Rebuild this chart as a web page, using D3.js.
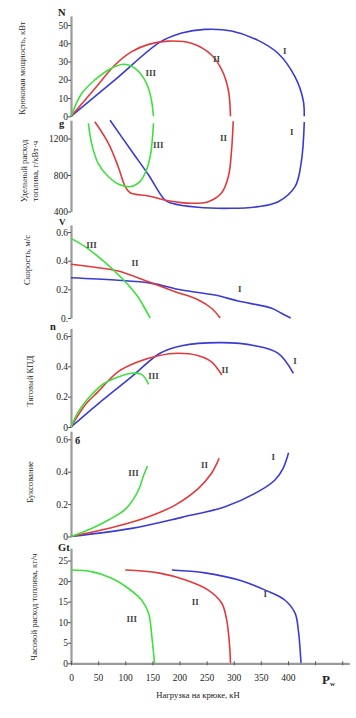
<!DOCTYPE html>
<html><head><meta charset="utf-8">
<script src="https://cdn.jsdelivr.net/npm/d3@7"></script>
<style>
html,body{margin:0;padding:0;background:#fff;}
svg{display:block;font-family:"Liberation Serif","DejaVu Serif",serif;}
</style></head>
<body>
<svg id="c" width="356" height="718"></svg>
<script>
// ---------- DATA ----------
const seriesNames = ["I", "II", "III"];
const xTicks = [0, 50, 100, 150, 200, 250, 300, 350, 400, 450, 500];
const xTickLabels = ["0", "50", "100", "150", "200", "250", "300", "350", "400", "", ""];

// Hook power N, kW  [load kN, value]
const powerI   = [[0,0],[81,19.9],[164,40.6],[204,45.6],[247,47.6],[296,46.7],[345,41.6],[382,34.4],[413,21.6],[428,8.9],[430,0]];
const powerII  = [[0,0],[44,15.2],[81,28.1],[112,35.4],[143,39.4],[179,41.2],[222,40],[259,33.6],[278,25.4],[290,14.4],[294,0]];
const powerIII = [[0,0],[20,12.6],[44,19.9],[69,25.4],[96,28.5],[118,26.3],[136,19.9],[147,10.8],[152,0]];

// Specific fuel consumption g, g/kWh
const sfcI   = [[72,1400],[112,1060],[143,800],[173,526],[186,490],[234,446],[295,435],[345,453],[382,507],[413,672],[425,964],[430,1380]];
const sfcII  = [[44,1384],[69,1147],[87,891],[100,672],[109,606],[143,570],[179,518],[222,490],[253,507],[277,599],[290,781],[296,1074],[299,1390]];
const sfcIII = [[32,1367],[38,1147],[50,928],[69,781],[87,701],[109,672],[127,727],[139,855],[147,1038],[152,1367]];

// Speed V, m/s
const speedI   = [[0,0.281],[81,0.265],[149,0.242],[204,0.195],[265,0.16],[308,0.119],[370,0.068],[388,0.033],[405,0]];
const speedII  = [[0,0.375],[50,0.351],[87,0.328],[143,0.253],[192,0.184],[235,0.126],[259,0.068],[275,0]];
const speedIII = [[0,0.556],[26,0.498],[50,0.428],[75,0.347],[100,0.253],[121,0.16],[136,0.068],[146,0]];

// Traction efficiency
const effI   = [[0,0],[50,0.153],[112,0.332],[164,0.486],[204,0.536],[278,0.556],[339,0.536],[382,0.486],[410,0.354]];
const effII  = [[0,0],[26,0.145],[50,0.233],[87,0.365],[124,0.43],[161,0.47],[198,0.486],[235,0.47],[259,0.43],[278,0.343]];
const effIII = [[0,0],[13.5,0.101],[32,0.189],[57,0.277],[81,0.321],[112,0.354],[130,0.347],[139,0.31],[143,0.281]];

// Slip
const slipI   = [[0,0],[112,0.05],[204,0.118],[284,0.184],[345,0.277],[376,0.349],[391,0.421],[401,0.517]];
const slipII  = [[0,0],[81,0.06],[143,0.122],[192,0.194],[235,0.297],[259,0.39],[269,0.452],[273,0.483]];
const slipIII = [[0,0],[38,0.05],[69,0.102],[100,0.168],[118,0.246],[127,0.307],[133,0.369],[141,0.435]];

// Hourly fuel consumption Gt, kg/h
const hourlyI   = [[186,22.7],[247,22],[308,20.3],[358,17.8],[394,15.4],[413,12.2],[419,8.1],[424,0]];
const hourlyII  = [[100,22.7],[161,22],[210,20.3],[253,17.8],[278,14.6],[287,10.5],[292,4.9],[294,0]];
const hourlyIII = [[0,22.7],[38,22.3],[75,20.7],[106,18.2],[130,15.4],[143,12.2],[149,6.5],[154,0]];

// Curve label anchors [load, value] for I, II, III
const powerLabels  = [[394,36],[268,31.6],[147,24]];
const sfcLabels    = [[407,1275],[281,1202],[161,1129]];
const speedLabels  = [[311,0.207],[118,0.386],[38,0.51]];
const effLabels    = [[413,0.435],[284,0.376],[152,0.338]];
const slipLabels   = [[373,0.489],[246,0.441],[115,0.39]];
const hourlyLabels = [[358,16.8],[229,15],[112,10.9]];

const powerTicks  = [0,10,20,30,40,50];
const sfcTicks    = [400,800,1200];
const speedTicks  = [0,0.2,0.4,0.6];
const effTicks    = [0,0.2,0.4,0.6];
const slipTicks   = [0,0.2,0.4,0.6];
const hourlyTicks = [0,5,10,15,20,25];

// ---------- DRAWING ----------
const colors = ["#3a3ad6", "#e23a3a", "#3ee03e"];
const svg = d3.select("#c");
const axisColor = "#9a9a9a";
const x = d3.scaleLinear().domain([0, 513]).range([71, 349.3]);

const panels = [
  {series:[powerI,powerII,powerIII], labels:powerLabels, ticks:powerTicks, fmt:d=>d, dom:[0,55], rng:[116.3,15.9],
   sym:"N", symX:58, symY:16, symFs:10.5, title:["Крюковая мощность, кВт"], tx:[25], ty:68},
  {series:[sfcI,sfcII,sfcIII], labels:sfcLabels, ticks:sfcTicks, fmt:d=>d, dom:[400,1400], rng:[211.5,120.25],
   sym:"g", symX:59, symY:127, symFs:10.5, title:["Удельный расход","топлива, г/кВт·ч"], tx:[27,38], ty:171},
  {series:[speedI,speedII,speedIII], labels:speedLabels, ticks:speedTicks, fmt:d=>d===0?"0.":d3.format(".1f")(d), dom:[0,0.65], rng:[318,224.9],
   sym:"V", symX:59, symY:224.6, symFs:9, title:["Скорость, м/с"], tx:[30], ty:260},
  {series:[effI,effII,effIII], labels:effLabels, ticks:effTicks, fmt:d=>d===0?"0":d3.format(".1f")(d), dom:[0,0.65], rng:[427,328.4],
   sym:"n", symX:50, symY:330, symFs:10.5, title:["Тяговый КПД"], tx:[33], ty:381},
  {series:[slipI,slipII,slipIII], labels:slipLabels, ticks:slipTicks, fmt:d=>d===0?"0":d3.format(".1f")(d), dom:[0,0.65], rng:[536.5,431.2],
   sym:"б", symX:75, symY:444, symFs:10.5, title:["Буксование"], tx:[33], ty:482},
  {series:[hourlyI,hourlyII,hourlyIII], labels:hourlyLabels, ticks:hourlyTicks, fmt:d=>d, dom:[0,28], rng:[663.3,548.2],
   sym:"Gt", symX:58, symY:551, symFs:10.5, title:["Часовой расход топлива, кг/ч"], tx:[37], ty:607}
];

panels.forEach(p => {
  const y = d3.scaleLinear().domain(p.dom).range(p.rng);
  const g = svg.append("g");
  const ax = g.append("g").attr("transform","translate(71,0)")
    .call(d3.axisLeft(y).tickValues(p.ticks).tickFormat(p.fmt).tickSize(3).tickSizeOuter(0));
  ax.select(".domain").attr("stroke", axisColor).attr("stroke-width", 2.2);
  ax.selectAll(".tick line").attr("stroke", "#555").attr("stroke-width", 1);
  ax.selectAll(".tick text").attr("font-size", 9.5).attr("fill","#222")
    .attr("font-family","Liberation Serif, serif").attr("x", -3);
  g.append("text").attr("x", p.symX).attr("y", p.symY).text(p.sym)
    .attr("font-size", p.symFs).attr("font-weight","bold").attr("fill","#222");
  p.title.forEach((t,i) => {
    g.append("text").attr("transform",`translate(${p.tx[i]},${p.ty}) rotate(-90)`)
      .attr("text-anchor","middle").attr("font-size", 8.6).attr("fill","#222").text(t);
  });
  const line = d3.line().x(d=>x(d[0])).y(d=>y(d[1])).curve(d3.curveCatmullRom.alpha(0.5));
  p.series.forEach((s,i) => {
    g.append("path").attr("d", line(s)).attr("fill","none")
      .attr("stroke", colors[i]).attr("stroke-width", 1.6).attr("stroke-linejoin","round");
  });
  p.labels.forEach((l,i) => {
    g.append("text").attr("x", x(l[0])).attr("y", y(l[1])).attr("dy","0.35em")
      .attr("text-anchor","middle").attr("font-size", 9).attr("font-weight","bold")
      .attr("fill","#444").text(seriesNames[i]);
  });
});

const xa = svg.append("g").attr("transform","translate(0,663.3)")
  .call(d3.axisBottom(x).tickValues(xTicks).tickFormat((d,i)=>xTickLabels[i]).tickSize(3).tickSizeOuter(0));
xa.select(".domain").attr("stroke", axisColor).attr("stroke-width", 2.2);
xa.selectAll(".tick line").attr("stroke","#555").attr("y1",-2).attr("y2",2);
xa.selectAll(".tick text").attr("font-size", 9.5).attr("fill","#222")
  .attr("font-family","Liberation Serif, serif").attr("y", 11);

svg.append("text").attr("x", 198).attr("y", 698).attr("text-anchor","middle")
  .attr("font-size", 8.6).attr("fill","#222").text("Нагрузка на крюке, кН");
const pw = svg.append("text").attr("x", 322).attr("y", 684).attr("font-size", 13)
  .attr("font-weight","bold").attr("fill","#222");
pw.append("tspan").text("P");
pw.append("tspan").attr("font-size", 7).attr("dy", 2).text("w");
</script>
</body></html>
